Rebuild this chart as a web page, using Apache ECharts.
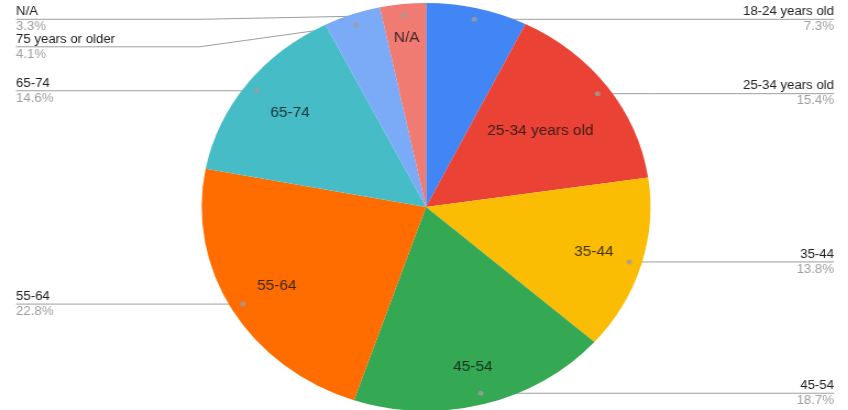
<!DOCTYPE html>
<html>
<head>
<meta charset="utf-8">
<script src="https://cdn.jsdelivr.net/npm/echarts@6/dist/echarts.min.js"></script>
<style>
  html, body { margin: 0; padding: 0; background: #ffffff; overflow: hidden; }
  #main { width: 771px; height: 410px; transform: scaleX(1.1); transform-origin: 0 0; }
</style>
</head>
<body>
<div id="main"></div>
<script>
// ---- data ----
const categories = ['18-24 years old', '25-34 years old', '35-44', '45-54', '55-64', '65-74', '75 years or older', 'N/A'];
const shares = [7.3, 15.4, 13.8, 18.7, 22.8, 14.6, 4.1, 3.3];
const insideNames = ['', '25-34 years old', '35-44', '45-54', '55-64', '65-74', '', 'N/A'];
const sliceColors = ['#4285F4', '#EA4335', '#FBBC04', '#34A853', '#FF6D01', '#46BDC6', '#7BAAF7', '#F07B72'];

// ---- layout (unscaled chart pixels; page stretched horizontally by STRETCH) ----
const STRETCH = 1.1;
const CX = 387.3, CY = 207, R = 204;
const DOT_F = 0.945;
const INNER_F = [0, 0.63, 0.78, 0.81, 0.77, 0.76, 0, 0.83];
const LEFT_X = 16 / STRETCH, RIGHT_X = 834 / STRETCH;
const GAP = 27.5, MIN_Y = 19.3;
const FONT = 'Arial, "Liberation Sans", sans-serif';

const total = shares.reduce((a, b) => a + b, 0);
const mids = [];
let acc = 0;
shares.forEach(v => { mids.push(acc + v / 2); acc += v; });
const theta = mids.map(m => m / total * 2 * Math.PI);
const dots = theta.map(t => [CX + DOT_F * R * Math.sin(t), CY - DOT_F * R * Math.cos(t)]);
const isRight = theta.map(t => t < Math.PI);
const labelY = [];
[true, false].forEach(side => {
  const idx = shares.map((_, i) => i).filter(i => isRight[i] === side)
    .sort((a, b) => dots[a][1] - dots[b][1]);
  let prev = -Infinity;
  idx.forEach(i => {
    const y = Math.max(dots[i][1], prev + GAP, MIN_Y);
    labelY[i] = y;
    prev = y;
  });
});

const chart = echarts.init(document.getElementById('main'), null, { renderer: 'canvas' });

const option = {
  animation: false,
  backgroundColor: '#ffffff',
  polar: { center: [CX, CY], radius: R },
  angleAxis: { type: 'value', min: 0, max: total, startAngle: 90, clockwise: true, show: false },
  radiusAxis: { type: 'value', min: 0, max: 1, show: false },
  series: [
    {
      type: 'pie',
      center: [CX, CY],
      radius: R,
      startAngle: 90,
      clockwise: true,
      avoidLabelOverlap: false,
      silent: true,
      itemStyle: { borderWidth: 0 },
      data: categories.map((c, i) => ({
        name: c,
        value: shares[i],
        itemStyle: { color: sliceColors[i] }
      })),
      label: {
        show: true,
        position: 'outside',
        fontFamily: FONT,
        formatter: p => '{n|' + p.name + '}\n{p|' + shares[p.dataIndex].toFixed(1) + '%}',
        rich: {
          n: { fontSize: 12, color: '#222222', lineHeight: 15, fontFamily: FONT },
          p: { fontSize: 12, color: '#9e9e9e', lineHeight: 15, fontFamily: FONT }
        }
      },
      labelLine: { show: true, lineStyle: { color: '#9e9e9e', width: 1 } },
      labelLayout: function (p) {
        const i = p.dataIndex;
        const right = isRight[i];
        const edgeX = right ? RIGHT_X : LEFT_X;
        const bendX = right ? CX + R + 2 : CX - R - 2;
        return {
          x: edgeX,
          y: labelY[i],
          align: right ? 'right' : 'left',
          verticalAlign: 'middle',
          labelLinePoints: [[dots[i][0], dots[i][1]], [bendX, labelY[i]], [edgeX, labelY[i]]]
        };
      }
    },
    {
      type: 'scatter',
      coordinateSystem: 'polar',
      silent: true,
      symbol: 'circle',
      symbolSize: 5,
      itemStyle: { color: '#9e9e9e' },
      data: mids.map(m => [DOT_F, m])
    },
    {
      type: 'scatter',
      coordinateSystem: 'polar',
      silent: true,
      symbolSize: 1,
      itemStyle: { color: 'rgba(0,0,0,0)' },
      label: {
        show: true,
        position: 'inside',
        formatter: '{b}',
        fontSize: 14,
        color: '#111111',
        fontFamily: FONT
      },
      data: insideNames.map((n, i) => ({ name: n, value: [INNER_F[i], mids[i]] }))
        .filter(d => d.name !== '')
    }
  ]
};

chart.setOption(option);
</script>
</body>
</html>
